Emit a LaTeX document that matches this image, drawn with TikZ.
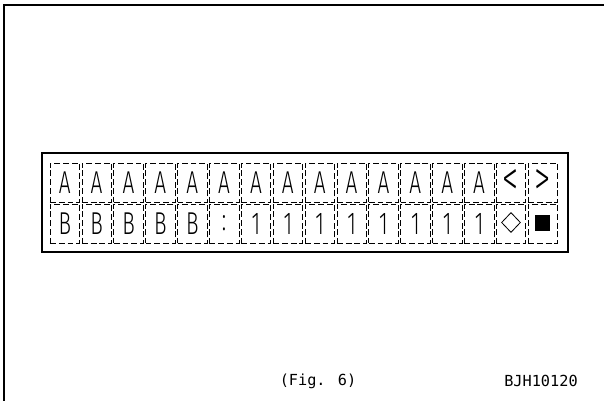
\documentclass[tikz,border=0pt]{standalone}
\usepackage{fontspec}
\newfontfamily\lcdfont[FakeStretch=0.66]{Fira Sans Light}
\newfontfamily\capfont{DejaVu Sans Mono}
\newcommand\arrowsym{\fontsize{42}{42}\selectfont}
\usetikzlibrary{shapes.geometric}

\begin{document}
\begin{tikzpicture}[x=0.03cm, y=-0.03cm,
   frame/.style={line width=1.7pt},
   cell/.style={draw, line width=0.6pt, dash pattern=on 5pt off 2.5pt,
                minimum width=0.885cm, minimum height=1.17cm,
                inner sep=0pt, outer sep=0pt,
                font=\lcdfont\fontsize{27}{27}\selectfont},
   caption/.style={font=\capfont\fontsize{13}{13}\selectfont}]

\useasboundingbox (0,0) rectangle (604,401);

% page corner and display frame
\draw[frame] (604,5) -| (4,401);
\draw[frame] (42,153) rectangle (568,252);

% upper row
\foreach \t [count=\i from 0] in {A,A,A,A,A,A,A,A,A,A,A,A,A,A,{\arrowsym<},{\arrowsym>}}
    \node[cell] (a\i) at (64.75+31.875*\i,182.5) {\t};
% lower row
\foreach \t [count=\i from 0] in {B,B,B,B,B,:,1,1,1,1,1,1,1,1,{},{}}
    \node[cell] (b\i) at (64.75+31.875*\i,223.5) {\t};

\node[diamond, draw, line width=0.7pt, minimum width=0.57cm, minimum height=0.6cm, inner sep=0pt] (mark) at ([yshift=0.03cm]b14) {};
\node[fill, minimum width=0.45cm, minimum height=0.48cm, inner sep=0pt] (block) at (b15) {};

\node[caption] (fig) at (318,381) {(Fig. 6)};
\node[caption] (code) at (541,381) {BJH10120};

\end{tikzpicture}
\end{document}
